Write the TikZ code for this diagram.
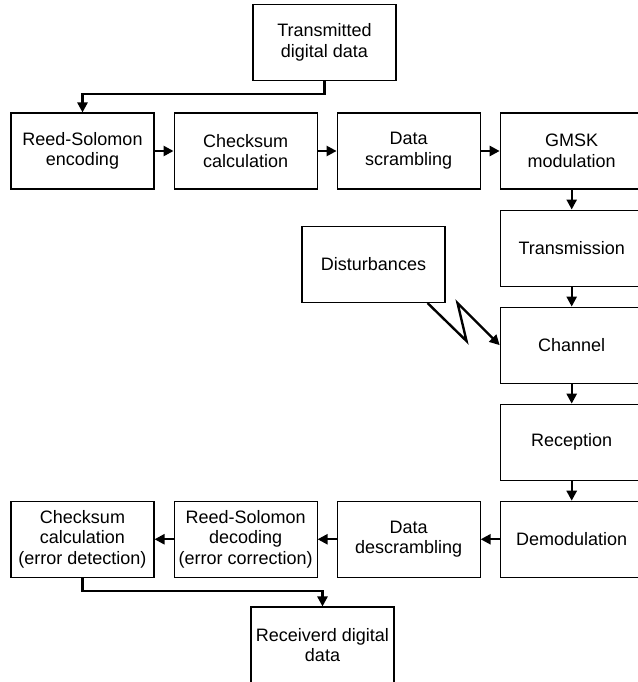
\documentclass[tikz,border=0pt]{standalone}
\usepackage{fontspec}
\setmainfont{Liberation Sans}
\usepackage{tikz}
\usetikzlibrary{arrows.meta, positioning}

\begin{document}
\begin{tikzpicture}[
      x=0.75pt, y=-0.75pt,
      node distance=15pt and 14.25pt,
      block/.style={draw, line width=0.8pt, minimum height=57pt, minimum width=107.25pt, inner sep=1pt, align=center, font=\fontsize{13.5}{15.5}\selectfont},
      arr/.style={-{Triangle[length=7.5pt,width=7.5pt]}, line width=1.8pt}
    ]
    \useasboundingbox (0,0) rectangle (637,682);
    \node[block] (src) at (324.5,42.5) {Transmitted\\digital data};
    \node[block] (rsenc) at (82.5,151) {Reed-Solomon\\encoding};
    \node[block, right=of rsenc] (crc) {Checksum\\calculation};
    \node[block, right=of crc] (scr) {Data\\scrambling};
    \node[block, right=of scr] (gmsk) {GMSK\\modulation};
    \node[block, below=of gmsk] (trans) {Transmission};
    \node[block, below=of trans] (chan) {Channel};
    \node[block, below=of chan] (recp) {Reception};
    \node[block, below=of recp] (demod) {Demodulation};
    \node[block, left=of demod] (descr) {Data\\descrambling};
    \node[block, left=of descr] (rsdec) {Reed-Solomon\\decoding\\(error correction)};
    \node[block, left=of rsdec] (crcdet) {Checksum\\calculation\\(error detection)};
    \node[block] (dist) at (373.5,264.5) {Disturbances};
    \node[block] (sink) at (322.5,645) {Receiverd digital\\data};

    \draw[arr] (src.south) -- ++(0,13) -| (rsenc.north);
    \draw[arr] (rsenc) -- (crc);
    \draw[arr] (crc) -- (scr);
    \draw[arr] (scr) -- (gmsk);
    \draw[arr] (gmsk) -- (trans);
    \draw[arr] (trans) -- (chan);
    \draw[arr] (chan) -- (recp);
    \draw[arr] (recp) -- (demod);
    \draw[arr] (demod) -- (descr);
    \draw[arr] (descr) -- (rsdec);
    \draw[arr] (rsdec) -- (crcdet);
    \draw[arr] (crcdet.south) -- ++(0,13) -| (sink.north);
    \draw[arr] ([xshift=-13.5pt]dist.south east) -- ++(39,38) -- ++(-9,-38) -- (chan.west);
  \end{tikzpicture}
\end{document}
